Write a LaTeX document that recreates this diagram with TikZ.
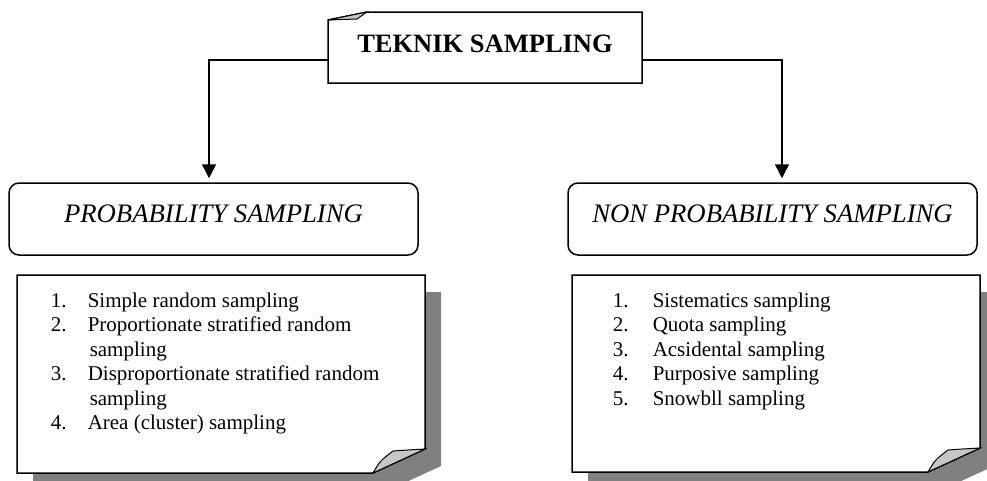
\documentclass[tikz,border=0pt]{standalone}
\usepackage{fontspec}
\setmainfont{Liberation Serif}
\usetikzlibrary{arrows.meta}
\begin{document}
\begin{tikzpicture}[x={(1pt,0)}, y={(0,-1pt)},
  line width=1.5pt,
  boxshape/.style={inner sep=0pt, outer sep=0pt},
  roundbox/.style={draw, rounded corners=10pt, inner sep=0pt, minimum width=409pt, minimum height=72pt},
  conn/.style={-{Triangle[length=14pt,width=14pt]}, shorten >=4pt},
  titletext/.style={anchor=base, font=\fontsize{26.5}{30}\selectfont\bfseries, inner sep=0pt},
  headtext/.style={anchor=base, font=\fontsize{26.7}{30}\selectfont\itshape, inner sep=0pt},
  itemtext/.style={anchor=base west, font=\fontsize{21}{24.5}\selectfont, inner sep=0pt},
  shadowfill/.style={fill=black!50, draw=none},
  flapfill/.style={fill=black!22, draw, line width=1pt}
]
\useasboundingbox (0,0) rectangle (987,480);
\clip (0,0) rectangle (987,480);

% top box
\node[boxshape, minimum width=314pt, minimum height=71pt] (top) at (485,47.5) {};
\draw (top.north east) -- (top.south east) -- (top.south west) -- ([yshift=-8pt]top.north west)
      -- ([xshift=39pt]top.north west) -- cycle;
\draw[flapfill] ([yshift=-8pt]top.north west) -- ([xshift=39pt]top.north west)
      .. controls ([xshift=34pt,yshift=-4pt]top.north west) .. ([xshift=29pt,yshift=-7pt]top.north west) -- cycle;
\node[titletext] (toptxt) at (485,52) {TEKNIK SAMPLING};

% category boxes
\node[roundbox] (prob) at (213.5,219) {};
\node[headtext] (probtxt) at (213.5,222) {PROBABILITY SAMPLING};
\node[roundbox] (nonprob) at (772.5,219) {};
\node[headtext] (nonprobtxt) at (772.5,222) {NON PROBABILITY SAMPLING};

% connectors
\draw[conn] ([yshift=-12.5pt]top.west) -| ([xshift=-4.5pt]prob.north);
\draw[conn] ([yshift=-12.5pt]top.east) -| ([xshift=9.5pt]nonprob.north);

% list boxes
\node[boxshape, minimum width=408pt, minimum height=198pt] (listl) at (221,374) {};
\node[boxshape, minimum width=408pt, minimum height=197pt] (listr) at (776,373.5) {};

\foreach \b in {listl,listr}{
  \fill[shadowfill, transform canvas={shift={(16pt,-17pt)}}] (\b.north west) -- (\b.north east) -- ([yshift=24pt]\b.south east)
      -- ([xshift=-52pt]\b.south east) -- (\b.south west) -- cycle;
  \draw[fill=white] (\b.north west) -- (\b.north east) -- ([yshift=24pt]\b.south east)
      -- ([xshift=-52pt]\b.south east) -- (\b.south west) -- cycle;
  \draw[flapfill] ([xshift=-52pt]\b.south east)
      .. controls ([xshift=-45pt,yshift=12pt]\b.south east) .. ([xshift=-32pt,yshift=22pt]\b.south east)
      .. controls ([xshift=-18pt,yshift=23pt]\b.south east) .. ([yshift=24pt]\b.south east) -- cycle;
}

% left list
\node[itemtext] (l1n) at (50,307) {1.};
\node[itemtext] (l1t) at (87,307) {Simple random sampling};
\node[itemtext] (l2n) at (50,331.5) {2.};
\node[itemtext] (l2t) at (87,331.5) {Proportionate stratified random};
\node[itemtext] (l2c) at (89,356) {sampling};
\node[itemtext] (l3n) at (50,380.5) {3.};
\node[itemtext] (l3t) at (87,380.5) {Disproportionate stratified random};
\node[itemtext] (l3c) at (89,405) {sampling};
\node[itemtext] (l4n) at (50,429.5) {4.};
\node[itemtext] (l4t) at (87,429.5) {Area (cluster) sampling};

% right list
\node[itemtext] (r1n) at (612,307) {1.};
\node[itemtext] (r1t) at (652,307) {Sistematics sampling};
\node[itemtext] (r2n) at (612,331.5) {2.};
\node[itemtext] (r2t) at (652,331.5) {Quota sampling};
\node[itemtext] (r3n) at (612,356) {3.};
\node[itemtext] (r3t) at (652,356) {Acsidental sampling};
\node[itemtext] (r4n) at (612,380.5) {4.};
\node[itemtext] (r4t) at (652,380.5) {Purposive sampling};
\node[itemtext] (r5n) at (612,405) {5.};
\node[itemtext] (r5t) at (652,405) {Snowbll sampling};
\end{tikzpicture}
\end{document}
